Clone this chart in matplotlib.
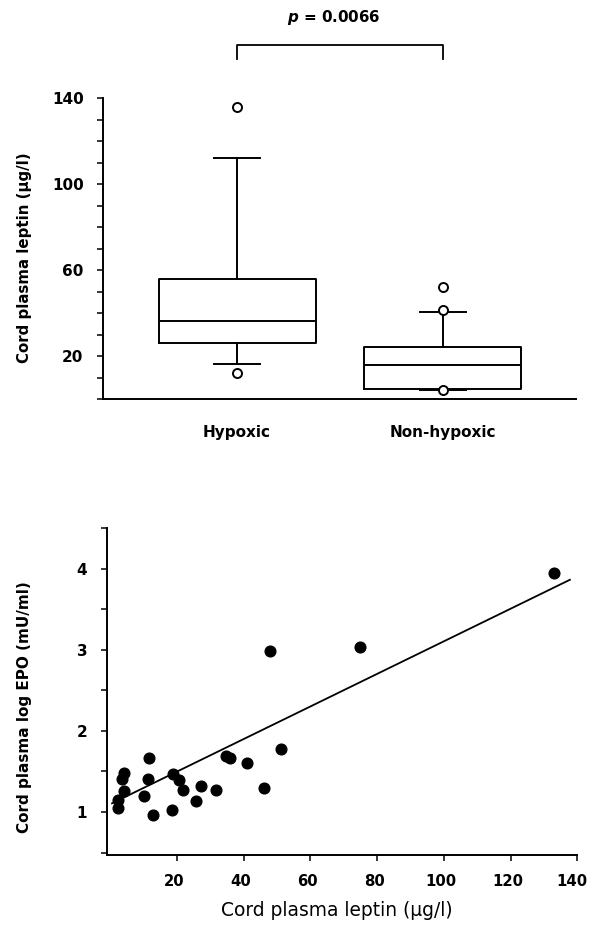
import numpy as np
import matplotlib
matplotlib.use("Agg")
import matplotlib.pyplot as plt
import matplotlib.transforms as mtransforms

plt.rcParams['font.family'] = ['DejaVu Sans']
plt.rcParams['mathtext.fontset'] = 'custom'
plt.rcParams['mathtext.it'] = 'DejaVu Sans:bold:italic'
plt.rcParams['mathtext.rm'] = 'DejaVu Sans:bold'

# ---- Data: box plot (cord plasma leptin, ug/l) ----
groups = ["Hypoxic", "Non-hypoxic"]
box_q1 = [26.2, 4.6]
box_med = [36.4, 15.8]
box_q3 = [55.7, 24.0]
box_whislo = [16.1, 4.3]
box_whishi = [112.1, 40.6]
fliers_hypoxic = [135.8, 11.9]
fliers_nonhypoxic = [52.3, 41.4, 4.3]
p_text = "0.0066"

# ---- Data: scatter (leptin vs log EPO) ----
leptin = [2.3, 2.3, 4.2, 3.6, 4.2, 10.3, 11.4, 11.8, 12.9, 18.5, 18.8, 20.7,
          22.0, 25.7, 27.3, 31.8, 34.9, 36.0, 41.0, 46.2, 51.1, 47.8, 74.8, 132.9]
log_epo = [1.05, 1.15, 1.26, 1.41, 1.48, 1.20, 1.41, 1.67, 0.96, 1.03, 1.47, 1.39,
           1.27, 1.13, 1.32, 1.27, 1.69, 1.67, 1.60, 1.30, 1.78, 2.98, 3.03, 3.95]
fit_slope = 0.0201
fit_intercept = 1.095
fit_x_range = [0.6, 137.8]

fig = plt.figure(figsize=(5.9, 9.42), dpi=100)

# ================= Top panel: box plot =================
ax1 = fig.add_axes([0.1746, 0.5764, 0.8017, 0.3192])
fliers = [fliers_hypoxic, fliers_nonhypoxic]
stats = []
for i, g in enumerate(groups):
    stats.append(dict(label=g, q1=box_q1[i], med=box_med[i], q3=box_q3[i],
                      whislo=box_whislo[i], whishi=box_whishi[i],
                      fliers=np.array(fliers[i])))
lw = 1.4
ax1.bxp(stats, positions=[1, 2], widths=0.764, capwidths=0.224,
        boxprops=dict(color='black', linewidth=lw),
        medianprops=dict(color='black', linewidth=lw),
        whiskerprops=dict(color='black', linewidth=lw),
        capprops=dict(color='black', linewidth=lw),
        flierprops=dict(marker='o', markerfacecolor='white', markeredgecolor='black',
                        markersize=6.5, markeredgewidth=1.4, linestyle='none'))
ax1.set_xlim(0.348, 2.649)
ax1.set_ylim(0, 140)
ax1.set_yticks([20, 60, 100, 140])
ax1.set_yticks(np.arange(0, 141, 10), minor=True)
ax1.set_xticks([1, 2])
ax1.set_xticklabels(groups, fontsize=11, fontweight='bold')
ax1.tick_params(axis='x', length=0, pad=19)
ax1.tick_params(axis='y', which='both', direction='out', length=4, width=1.1, pad=10)
for lab in ax1.get_yticklabels():
    lab.set_fontweight('bold')
    lab.set_fontsize(11)
for s in ['top', 'right']:
    ax1.spines[s].set_visible(False)
for s in ['left', 'bottom']:
    ax1.spines[s].set_linewidth(1.4)
ax1.set_ylabel("Cord plasma leptin (\u03bcg/l)", fontsize=10.8, fontweight='bold')
ax1.yaxis.set_label_coords(-0.151, 0.47)

# significance bracket
ax1.plot([1, 1, 2, 2], [158.3, 164.8, 164.8, 158.3], color='black', lw=1.3,
         clip_on=False)
ax1.text(1.47, 177.5, r"$\mathit{p}$ = " + p_text, ha='center', va='center',
         fontsize=10.9, fontweight='bold', clip_on=False)

# ================= Bottom panel: scatter =================
ax2 = fig.add_axes([0.1808, 0.0924, 0.7976, 0.3468])
ax2.plot(leptin, log_epo, 'o', color='black', markersize=7.7, linestyle='none')
fx = np.array(fit_x_range)
ax2.plot(fx, fit_intercept + fit_slope * fx, color='black', lw=1.3)
ax2.set_xlim(-1, 140)
ax2.set_ylim(0.47, 4.48)
ax2.set_xticks([20, 40, 60, 80, 100, 120, 140])
ax2.set_yticks([1, 2, 3, 4])
ax2.set_yticks(np.arange(0.5, 4.6, 0.5), minor=True)
ax2.tick_params(axis='x', direction='out', length=4, width=1.1, pad=10)
ax2.tick_params(axis='y', which='both', direction='out', length=4, width=1.1, pad=10)
for lab in ax2.get_yticklabels():
    lab.set_fontweight('bold')
    lab.set_fontsize(11)
xlabs = ax2.get_xticklabels()
for k, lab in enumerate(xlabs):
    lab.set_fontweight('bold')
    lab.set_fontsize(10.7)
    shift = -5.5 if k == len(xlabs) - 1 else -3
    lab.set_transform(lab.get_transform() +
                      mtransforms.ScaledTranslation(shift / 100, 0, fig.dpi_scale_trans))
for s in ['top', 'right']:
    ax2.spines[s].set_visible(False)
for s in ['left', 'bottom']:
    ax2.spines[s].set_linewidth(1.4)
ax2.set_ylabel("Cord plasma log EPO (mU/ml)", fontsize=11, fontweight='bold')
ax2.yaxis.set_label_coords(-0.159, 0.451)
ax2.set_xlabel("Cord plasma leptin (\u03bcg/l)", fontsize=13.4)
ax2.xaxis.set_label_coords(0.49, -0.141)

fig.savefig("out.png", dpi=100)
